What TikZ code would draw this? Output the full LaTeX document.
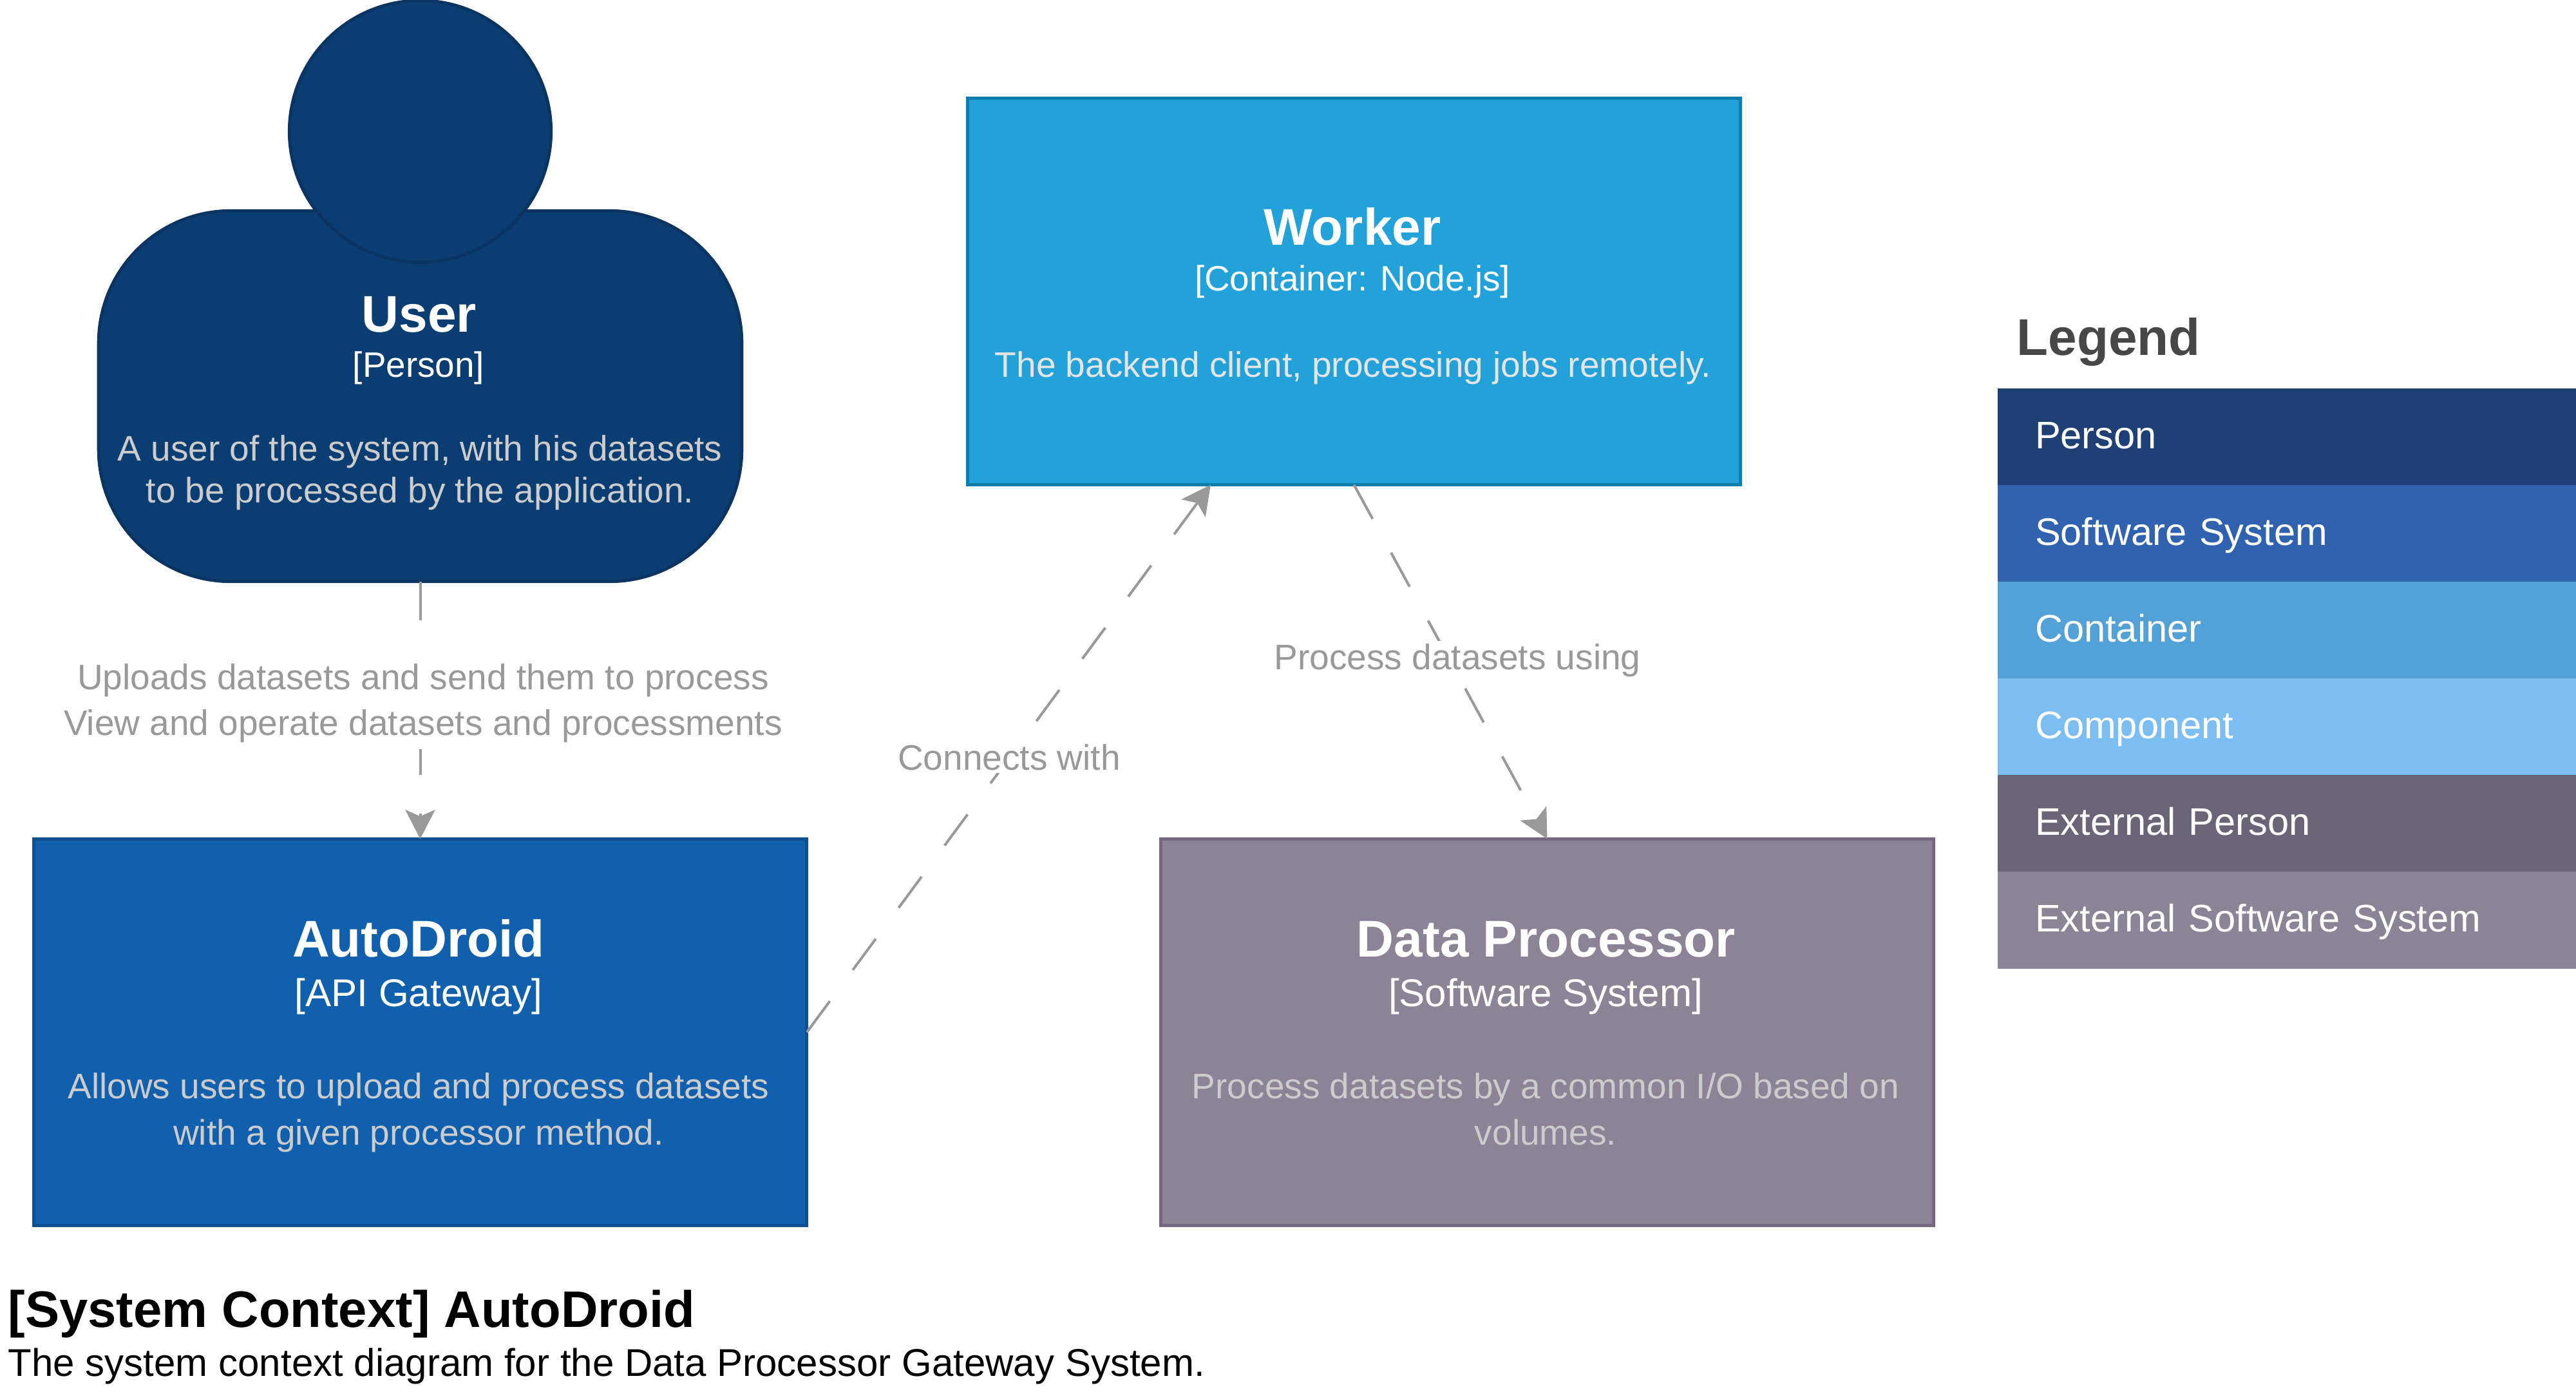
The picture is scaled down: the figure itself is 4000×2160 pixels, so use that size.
\documentclass[tikz,border=0pt]{standalone}
\usepackage{fontspec}
\setmainfont{Liberation Sans}
\usetikzlibrary{arrows.meta, positioning, calc}
\definecolor{personColor}{HTML}{0A3E73}
\definecolor{personEdge}{HTML}{0B3463}
\definecolor{systemColor}{HTML}{1160AE}
\definecolor{systemEdge}{HTML}{0E5092}
\definecolor{containerColor}{HTML}{23A2D9}
\definecolor{containerEdge}{HTML}{0E7DAD}
\definecolor{externalColor}{HTML}{8C8496}
\definecolor{externalEdge}{HTML}{736782}
\definecolor{relColor}{HTML}{999999}
\definecolor{legPerson}{HTML}{1E4074}
\definecolor{legSystem}{HTML}{3162AF}
\definecolor{legContainer}{HTML}{52A2D8}
\definecolor{legComponent}{HTML}{7DBEF2}
\definecolor{legExtPerson}{HTML}{6B6477}
\definecolor{legExtSystem}{HTML}{8B8496}
\tikzstyle{card} = [rectangle, minimum width=12cm, minimum height=6cm, line width=0.05cm, outer sep=0pt, inner sep=0pt]
\tikzstyle{cardname} = [anchor=base, inner sep=0pt, text=white, font=\fontsize{22.8}{26}\selectfont\bfseries]
\tikzstyle{cardtech} = [anchor=base, inner sep=0pt, text=white, font=\fontsize{15.6}{19}\selectfont]
\tikzstyle{cardtechbig} = [cardtech, font=\fontsize{17.1}{20}\selectfont]
\tikzstyle{carddesc} = [anchor=base, inner sep=0pt, text=black!20, font=\fontsize{15.65}{19}\selectfont]
\tikzstyle{rel} = [line width=0.04cm, relColor, dash pattern=on 0.6cm off 0.6cm, -{Stealth[length=0.45cm,width=0.46cm,inset=0.1cm]}]
\tikzstyle{rellabel} = [fill=white, text=relColor, inner sep=0.04cm, align=center, font=\fontsize{15.65}{20.2}\selectfont]
\tikzstyle{legenditem} = [rectangle, minimum width=8.98cm, minimum height=1.5cm, text width=7.82cm, inner xsep=0.56cm, inner ysep=0pt, outer sep=0pt, text height=0.64cm, text depth=0.28cm, text=white, font=\fontsize{16.95}{20}\selectfont]

\begin{document}
\begin{tikzpicture}[x=0.01cm, y=-0.01cm]
    \useasboundingbox (0,0) rectangle (4000,2160);

    % Person
    \node (user) [card, minimum width=9.98cm, minimum height=5.75cm, rounded corners=2.05cm, fill=personColor, draw=personEdge] at (652.5,615) {};
    \node (user_head) [circle, minimum size=4.06cm, inner sep=0pt, line width=0.05cm, fill=personColor, draw=personEdge] at (652.5,204) {};
    \node (user_name) [cardname] at (651,515) {User};
    \node (user_tech) [cardtech] at (650,585) {[Person]};
    \node (user_desc1) [carddesc] at (652,715) {A user of the system, with his datasets};
    \node (user_desc2) [carddesc] at (652,780) {to be processed by the application.};

    % Worker
    \node (worker) [card, fill=containerColor, draw=containerEdge] at (2102.5,452.5) {};
    \node (worker_name) [cardname] at (2100,380) {Worker};
    \node (worker_tech) [cardtech] at (2100,451) {[Container: Node.js]};
    \node (worker_desc) [carddesc, text=black!10] at (2101,585) {The backend client, processing jobs remotely.};

    % AutoDroid
    \node (autodroid) [card, fill=systemColor, draw=systemEdge] at (652.5,1602.5) {};
    \node (autodroid_name) [cardname] at (650,1485) {AutoDroid};
    \node (autodroid_tech) [cardtechbig] at (650,1562) {[API Gateway]};
    \node (autodroid_desc1) [carddesc] at (650,1705) {Allows users to upload and process datasets};
    \node (autodroid_desc2) [carddesc] at (650,1777) {with a given processor method.};

    % Data Processor
    \node (processor) [card, fill=externalColor, draw=externalEdge] at (2402.5,1602.5) {};
    \node (processor_name) [cardname] at (2401,1485) {Data Processor};
    \node (processor_tech) [cardtechbig] at (2400,1562) {[Software System]};
    \node (processor_desc1) [carddesc] at (2400,1705) {Process datasets by a common I/O based on};
    \node (processor_desc2) [carddesc] at (2400,1777) {volumes.};

    % Relations
    \draw [rel] (user.south) -- (autodroid.north);
    \draw [rel] (autodroid.east) -- ($(worker.south west)!0.3146!(worker.south east)$);
    \draw [rel] (worker.south) -- (processor.north);
    \node (uploads_label) [rellabel, minimum height=1.42cm] at (657,1092) {Uploads datasets and send them to process\\View and operate datasets and processments};
    \node (connects_label) [rellabel] at (1567,1176) {Connects with};
    \node (process_label) [rellabel] at (2263,1025) {Process datasets using};

    % Legend
    \node (legend_title) [anchor=base west, inner sep=0pt, text=black!72, font=\fontsize{22.8}{26}\selectfont\bfseries] at (3131,551) {Legend};
    \node (legend_person) [legenditem, fill=legPerson, anchor=north west] at (3102,603) {Person};
    \node (legend_system) [legenditem, fill=legSystem, below=0pt of legend_person] {Software System};
    \node (legend_container) [legenditem, fill=legContainer, below=0pt of legend_system] {Container};
    \node (legend_component) [legenditem, fill=legComponent, below=0pt of legend_container] {Component};
    \node (legend_extperson) [legenditem, fill=legExtPerson, below=0pt of legend_component] {External Person};
    \node (legend_extsystem) [legenditem, fill=legExtSystem, below=0pt of legend_extperson] {External Software System};

    % Caption
    \node (caption_title) [anchor=base west, inner sep=0pt, font=\fontsize{22.65}{26}\selectfont\bfseries] at (12,2060) {[System Context] AutoDroid};
    \node (caption_text) [anchor=base west, inner sep=0pt, font=\fontsize{17.07}{20}\selectfont] at (12,2136) {The system context diagram for the Data Processor Gateway System.};
\end{tikzpicture}
\end{document}
